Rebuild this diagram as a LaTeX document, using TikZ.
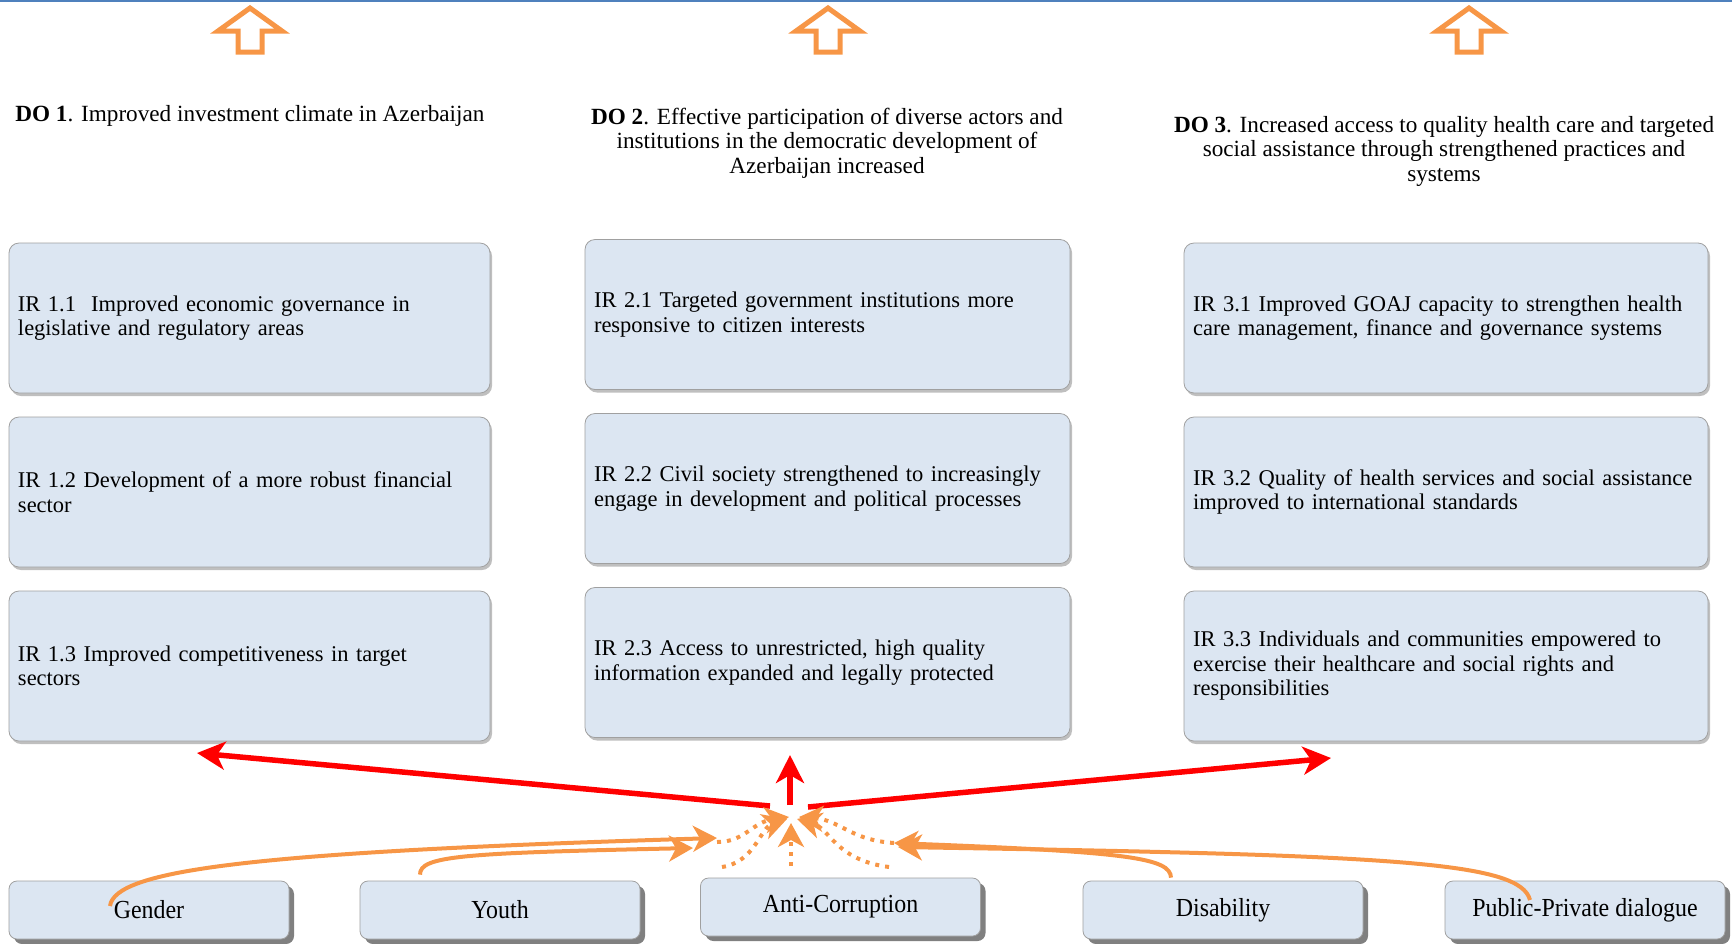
\documentclass[tikz,border=0pt]{standalone}
\usepackage{fontspec}
\setmainfont{Liberation Serif}
\newfontfamily\labelfont[FakeStretch=0.92]{Liberation Serif}
\usetikzlibrary{arrows.meta,shadows,positioning}

\definecolor{boxfill}{RGB}{220,230,242}
\definecolor{boxline}{RGB}{160,160,160}
\definecolor{accent}{RGB}{247,150,70}
\definecolor{topline}{RGB}{79,129,189}

\begin{document}
\begin{tikzpicture}[x=0.5pt,y=-0.5pt,node distance=87pt,
    ir box/.style={rectangle,rounded corners=5pt,draw=boxline,fill=boxfill,
      text width=#1,minimum height=75pt,inner xsep=4.5pt,align=left,
      font=\fontsize{11.25}{12.25}\selectfont,
      drop shadow={shadow xshift=1pt,shadow yshift=-1.5pt,fill=black,opacity=0.25}},
    theme box/.style={rectangle,rounded corners=4pt,draw=boxline,fill=boxfill,
      minimum width=140pt,minimum height=29pt,
      font=\labelfont\fontsize{13}{14}\selectfont,
      drop shadow={shadow xshift=2.5pt,shadow yshift=-2.5pt,fill=black!50,opacity=1}},
    do text/.style={font=\fontsize{11.6}{12.25}\selectfont,align=center},
    cross/.style={-{Stealth[length=14pt,width=14pt,inset=4pt]},red,line width=2.75pt},
    feed/.style={-{Stealth[length=12pt,width=13pt,inset=3.5pt]},accent,line width=2pt},
    dots/.style={feed,dash pattern=on 2pt off 3pt}]

  \useasboundingbox (0,0) rectangle (1732,943);
  \draw[topline,line width=1pt] (0,1) -- (1732,1);

  % hollow arrows over the objectives
  \foreach \cx in {250,828,1469}
    \draw[accent,line width=2.5pt,fill=white,line join=miter]
      (\cx,8) -- (\cx+32,31) -- (\cx+12,31) -- (\cx+12,52) -- (\cx-12,52)
      -- (\cx-12,31) -- (\cx-32,31) -- cycle;

  \node[do text,anchor=west,inner xsep=0pt] (do1) at (15,116)
    {\textbf{DO 1}. Improved investment climate in Azerbaijan};
  \node[do text] (do2) at (827,143)
    {\textbf{DO 2}. Effective participation of diverse actors and\\
     institutions in the democratic development of\\Azerbaijan increased};
  \node[do text] (do3) at (1444,151)
    {\textbf{DO 3}. Increased access to quality health care and targeted\\
     social assistance through strengthened practices and\\systems};

  \node[ir box=231.5pt] (ir11) at (249.5,318)
    {IR 1.1\ \ Improved economic governance in\\legislative and regulatory areas};
  \node[ir box=231.5pt] (ir12) [below of=ir11]
    {IR 1.2 Development of a more robust financial\\sector};
  \node[ir box=231.5pt] (ir13) [below of=ir12]
    {IR 1.3 Improved competitiveness in target\\sectors};

  \node[ir box=233.5pt] (ir21) at (827.5,314.5)
    {IR 2.1 Targeted government institutions more\\responsive to citizen interests};
  \node[ir box=233.5pt] (ir22) [below of=ir21]
    {IR 2.2 Civil society strengthened to increasingly\\engage in development and political processes};
  \node[ir box=233.5pt] (ir23) [below of=ir22]
    {IR 2.3 Access to unrestricted, high quality\\information expanded and legally protected};

  \node[ir box=253pt] (ir31) at (1446,318)
    {IR 3.1 Improved GOAJ capacity to strengthen health\\care management, finance and governance systems};
  \node[ir box=253pt] (ir32) [below of=ir31]
    {IR 3.2 Quality of health services and social assistance\\improved to international standards};
  \node[ir box=253pt] (ir33) [below of=ir32]
    {IR 3.3 Individuals and communities empowered to\\exercise their healthcare and social rights and\\responsibilities};

  \node[theme box] (gender) at (149,910) {Gender};
  \node[theme box] (youth) at (500,910) {Youth};
  \node[theme box] (anticorr) at (840.5,907) {Anti-Corruption};
  \node[theme box] (disab) at (1223,910) {Disability};
  \node[theme box] (ppd) at (1585,910) {Public-Private dialogue};

  % red spread towards the objectives
  \coordinate (hub) at (793,817);
  \coordinate (reach1) at (197,753);
  \coordinate (reach2) at (790,755);
  \coordinate (reach3) at (1331,758);
  \draw[cross] ([xshift=-11.5pt,yshift=5.5pt]hub) -- (reach1);
  \draw[cross] ([xshift=-1.5pt,yshift=6pt]hub) -- (reach2);
  \draw[cross] ([xshift=7.5pt,yshift=5pt]hub) -- (reach3);

  % cross-cutting themes feeding the hub
  \coordinate (gtip) at (717,838);
  \coordinate (ytip) at (693,848);
  \coordinate (dtip) at (894,843);
  \coordinate (ptip) at (898,847);
  \coordinate (lowL) at (722,867);
  \coordinate (lowM) at (791,866);
  \coordinate (lowR) at (889,867);
  \draw[feed] ([xshift=-19.5pt,yshift=2pt]gender.center)
    .. controls (115,870) and (250,852) .. (gtip);
  \draw[feed] ([xshift=-40pt,yshift=3pt]youth.north)
    .. controls (420,856) and (460,853) .. (ytip);
  \draw[feed] ([xshift=-26pt,yshift=1.5pt]disab.north)
    .. controls (1170,858) and (1130,852) .. (dtip);
  \draw[feed] ([xshift=-27.5pt,yshift=5pt]ppd.center)
    .. controls (1520,862) and (1400,855) .. (ptip);

  \draw[dots] ([yshift=-2pt]gtip) .. controls (745,842) and (752,822) .. ([xshift=-2pt]hub);
  \draw[dots] (lowL) .. controls (755,862) and (760,828) .. ([xshift=-3pt,yshift=-1pt]hub);
  \draw[dots] (lowM) -- ([xshift=-1pt,yshift=-3pt]hub);
  \draw[dots] (lowR) .. controls (835,860) and (830,828) .. ([xshift=2pt,yshift=-1pt]hub);
  \draw[dots] (dtip) .. controls (850,840) and (840,820) .. ([xshift=3pt]hub);
\end{tikzpicture}
\end{document}
